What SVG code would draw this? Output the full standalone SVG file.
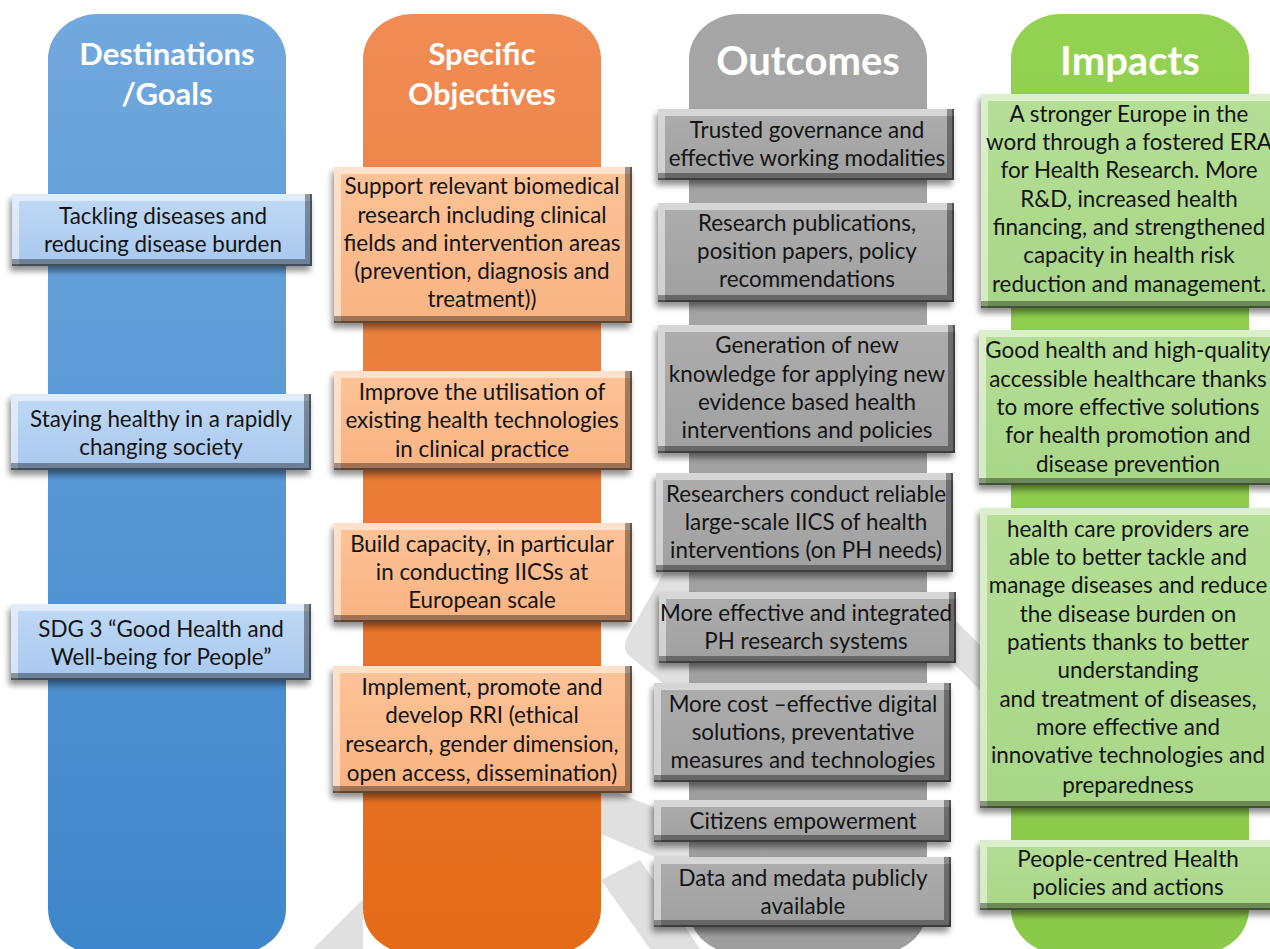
<svg xmlns="http://www.w3.org/2000/svg" width="1270" height="949" viewBox="0 0 1270 949">
<defs>
<style>
.t{font-family:Lato,"Liberation Sans",sans-serif;font-size:22.4px;fill:#141414;text-anchor:middle}
.h{font-family:Lato,"Liberation Sans",sans-serif;font-weight:bold;fill:#ffffff;text-anchor:middle}
.wm{fill:#e0e0e0}
</style>
<linearGradient id="gBlue" x1="0" y1="0" x2="0" y2="1"><stop offset="0" stop-color="#71a8de"/><stop offset="1" stop-color="#3e86cb"/></linearGradient>
<linearGradient id="gOrange" x1="0" y1="0" x2="0" y2="1"><stop offset="0" stop-color="#f08c55"/><stop offset="1" stop-color="#e46a17"/></linearGradient>
<linearGradient id="gGray" x1="0" y1="0" x2="0" y2="1"><stop offset="0" stop-color="#a6a6a6"/><stop offset="1" stop-color="#9e9e9e"/></linearGradient>
<linearGradient id="gGreen" x1="0" y1="0" x2="0" y2="1"><stop offset="0" stop-color="#93d152"/><stop offset="1" stop-color="#8bc94b"/></linearGradient>
<linearGradient id="bBlue" x1="0" y1="0" x2="0" y2="1"><stop offset="0" stop-color="#c0d9f5"/><stop offset="1" stop-color="#a8c8ee"/></linearGradient>
<linearGradient id="bOrange" x1="0" y1="0" x2="0" y2="1"><stop offset="0" stop-color="#fcc397"/><stop offset="1" stop-color="#f9b382"/></linearGradient>
<linearGradient id="bGray" x1="0" y1="0" x2="0" y2="1"><stop offset="0" stop-color="#adadad"/><stop offset="1" stop-color="#a0a0a0"/></linearGradient>
<linearGradient id="bGreen" x1="0" y1="0" x2="0" y2="1"><stop offset="0" stop-color="#b5de96"/><stop offset="1" stop-color="#a8d687"/></linearGradient>
<filter id="bev" x="-6%" y="-15%" width="114%" height="140%" color-interpolation-filters="sRGB">
  <feGaussianBlur in="SourceAlpha" stdDeviation="3" result="b"/>
  <feOffset in="b" dx="-2" dy="5" result="sh"/>
  <feComponentTransfer in="sh" result="sh2"><feFuncA type="linear" slope="0.45"/></feComponentTransfer>
  <feOffset in="SourceAlpha" dx="7" dy="7" result="o1"/>
  <feComposite in="SourceAlpha" in2="o1" operator="out" result="tl"/>
  <feFlood flood-color="#ffffff" flood-opacity="0.5"/>
  <feComposite in2="tl" operator="in" result="tlc"/>
  <feOffset in="SourceAlpha" dx="-7" dy="-7" result="o2"/>
  <feComposite in="SourceAlpha" in2="o2" operator="out" result="br"/>
  <feFlood flood-color="#000000" flood-opacity="0.36"/>
  <feComposite in2="br" operator="in" result="brc"/>
  <feOffset in="SourceAlpha" dx="-2" dy="-2" result="o3"/>
  <feComposite in="SourceAlpha" in2="o3" operator="out" result="edge"/>
  <feFlood flood-color="#000000" flood-opacity="0.4"/>
  <feComposite in2="edge" operator="in" result="edgec"/>
  <feMerge><feMergeNode in="sh2"/><feMergeNode in="SourceGraphic"/><feMergeNode in="tlc"/><feMergeNode in="brc"/><feMergeNode in="edgec"/></feMerge>
</filter>
</defs>
<rect width="1270" height="949" fill="#ffffff"/>
<g id="watermark">
  <polygon class="wm" points="313,949 363,899 363,949"/>
  <path class="wm" d="M664,572 L628,636 Q620,650 632,658 L690,705 L690,572 Z"/>
  <polygon class="wm" points="601,786 690,822 690,872 601,834"/>
  <polygon class="wm" points="601,880 650,949 700,949 640,860"/>
  <polygon class="wm" points="950,615 980,645 980,690 950,660"/>
</g>
<g id="columns">
  <g id="col-goals"><rect x="48" y="14" width="238" height="940" rx="50" ry="45" fill="url(#gBlue)"/><text class="h" font-size="31" x="167" y="65">Destinations</text><text class="h" font-size="31" x="167" y="105">/Goals</text></g>
  <g id="col-objectives"><rect x="363" y="14" width="238" height="940" rx="50" ry="45" fill="url(#gOrange)"/><text class="h" font-size="31" x="482" y="65">Specific</text><text class="h" font-size="31" x="482" y="105">Objectives</text></g>
  <g id="col-outcomes"><rect x="689" y="14" width="238" height="940" rx="50" ry="45" fill="url(#gGray)"/><text class="h" font-size="40" x="808" y="75">Outcomes</text></g>
  <g id="col-impacts"><rect x="1011" y="14" width="238" height="940" rx="50" ry="45" fill="url(#gGreen)"/><text class="h" font-size="40" x="1130" y="75">Impacts</text></g>
</g>
<g id="connectors"></g>
<g id="nodes">
  <g id="b1"><rect x="12" y="194" width="300" height="72" fill="url(#bBlue)" filter="url(#bev)"/><text class="t" x="163" y="224">Tackling diseases and</text><text class="t" x="163" y="252">reducing disease burden</text></g>
  <g id="b2"><rect x="11" y="394" width="300" height="76" fill="url(#bBlue)" filter="url(#bev)"/><text class="t" x="161" y="427">Staying healthy in a rapidly</text><text class="t" x="161" y="455">changing society</text></g>
  <g id="b3"><rect x="11" y="604" width="300" height="76" fill="url(#bBlue)" filter="url(#bev)"/><text class="t" x="161" y="637">SDG 3 “Good Health and</text><text class="t" x="161" y="665">Well-being for People”</text></g>

  <g id="o1"><rect x="334" y="167" width="298" height="156" fill="url(#bOrange)" filter="url(#bev)"/><text class="t" x="482" y="194">Support relevant biomedical</text><text class="t" x="482" y="223">research including clinical</text><text class="t" x="482" y="251">fields and intervention areas</text><text class="t" x="482" y="279">(prevention, diagnosis and</text><text class="t" x="482" y="307">treatment))</text></g>
  <g id="o2"><rect x="334" y="371" width="298" height="99" fill="url(#bOrange)" filter="url(#bev)"/><text class="t" x="482" y="400">Improve the utilisation of</text><text class="t" x="482" y="428">existing health technologies</text><text class="t" x="482" y="457">in clinical practice</text></g>
  <g id="o3"><rect x="334" y="523" width="298" height="99" fill="url(#bOrange)" filter="url(#bev)"/><text class="t" x="482" y="552">Build capacity, in particular</text><text class="t" x="482" y="580">in conducting IICSs at</text><text class="t" x="482" y="608">European scale</text></g>
  <g id="o4"><rect x="333" y="666" width="299" height="127" fill="url(#bOrange)" filter="url(#bev)"/><text class="t" x="482" y="695">Implement, promote and</text><text class="t" x="482" y="723">develop RRI (ethical</text><text class="t" x="482" y="752">research, gender dimension,</text><text class="t" x="482" y="781">open access, dissemination)</text></g>

  <g id="g1"><rect x="658" y="109" width="296" height="71" fill="url(#bGray)" filter="url(#bev)"/><text class="t" x="807" y="138">Trusted governance and</text><text class="t" x="807" y="166">effective working modalities</text></g>
  <g id="g2"><rect x="658" y="203" width="296" height="99" fill="url(#bGray)" filter="url(#bev)"/><text class="t" x="807" y="231">Research publications,</text><text class="t" x="807" y="259">position papers, policy</text><text class="t" x="807" y="287">recommendations</text></g>
  <g id="g3"><rect x="658" y="325" width="297" height="128" fill="url(#bGray)" filter="url(#bev)"/><text class="t" x="807" y="353">Generation of new</text><text class="t" x="807" y="382">knowledge for applying new</text><text class="t" x="807" y="410">evidence based health</text><text class="t" x="807" y="438">interventions and policies</text></g>
  <g id="g4"><rect x="656" y="473" width="297" height="99" fill="url(#bGray)" filter="url(#bev)"/><text class="t" x="806" y="502">Researchers conduct reliable</text><text class="t" x="806" y="530">large-scale IICS of health</text><text class="t" x="806" y="558">interventions (on PH needs)</text></g>
  <g id="g5"><rect x="659" y="592" width="297" height="71" fill="url(#bGray)" filter="url(#bev)"/><text class="t" x="806" y="621">More effective and integrated</text><text class="t" x="806" y="649">PH research systems</text></g>
  <g id="g6"><rect x="654" y="683" width="297" height="99" fill="url(#bGray)" filter="url(#bev)"/><text class="t" x="803" y="712">More cost –effective digital</text><text class="t" x="803" y="740">solutions, preventative</text><text class="t" x="803" y="768">measures and technologies</text></g>
  <g id="g7"><rect x="654" y="800" width="297" height="42" fill="url(#bGray)" filter="url(#bev)"/><text class="t" x="803" y="829">Citizens empowerment</text></g>
  <g id="g8"><rect x="654" y="857" width="297" height="70" fill="url(#bGray)" filter="url(#bev)"/><text class="t" x="803" y="886">Data and medata publicly</text><text class="t" x="803" y="914">available</text></g>

  <g id="e1"><rect x="981" y="94" width="300" height="214" fill="url(#bGreen)" filter="url(#bev)"/><text class="t" x="1129" y="122">A stronger Europe in the</text><text class="t" x="1129" y="150">word through a fostered ERA</text><text class="t" x="1129" y="178">for Health Research. More</text><text class="t" x="1129" y="207">R&amp;D, increased health</text><text class="t" x="1129" y="235">financing, and strengthened</text><text class="t" x="1129" y="263">capacity in health risk</text><text class="t" x="1129" y="292">reduction and management.</text></g>
  <g id="e2"><rect x="979" y="330" width="300" height="155" fill="url(#bGreen)" filter="url(#bev)"/><text class="t" x="1128" y="358">Good health and high-quality</text><text class="t" x="1128" y="387">accessible healthcare thanks</text><text class="t" x="1128" y="415">to more effective solutions</text><text class="t" x="1128" y="443">for health promotion and</text><text class="t" x="1128" y="472">disease prevention</text></g>
  <g id="e3"><rect x="980" y="508" width="300" height="300" fill="url(#bGreen)" filter="url(#bev)"/><text class="t" x="1128" y="537">health care providers are</text><text class="t" x="1128" y="565">able to better tackle and</text><text class="t" x="1128" y="593">manage diseases and reduce</text><text class="t" x="1128" y="622">the disease burden on</text><text class="t" x="1128" y="650">patients thanks to better</text><text class="t" x="1128" y="678">understanding</text><text class="t" x="1128" y="707">and treatment of diseases,</text><text class="t" x="1128" y="735">more effective and</text><text class="t" x="1128" y="763">innovative technologies and</text><text class="t" x="1128" y="793">preparedness</text></g>
  <g id="e4"><rect x="980" y="840" width="300" height="70" fill="url(#bGreen)" filter="url(#bev)"/><text class="t" x="1128" y="867">People-centred Health</text><text class="t" x="1128" y="895">policies and actions</text></g>
</g>
</svg>
